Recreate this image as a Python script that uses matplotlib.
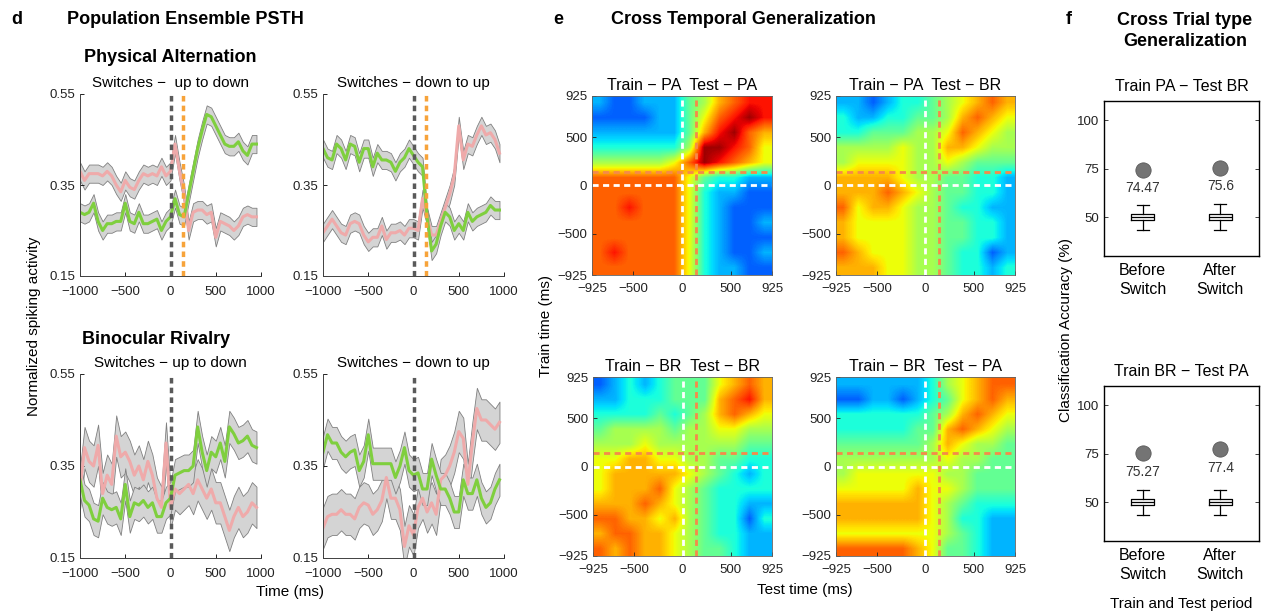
import numpy as np
import matplotlib
matplotlib.use('Agg')
import matplotlib.pyplot as plt
from matplotlib.colors import ListedColormap

plt.rcParams['font.family'] = ['Liberation Sans', 'DejaVu Sans']
plt.rcParams['xtick.direction'] = 'in'
plt.rcParams['ytick.direction'] = 'in'

W, H = 1269, 613

# ---- d: population PSTH (50 ms bins) ----
time = np.arange(-1000, 1000, 50)

pa_ud_green = [0.29, 0.285, 0.29, 0.31, 0.27, 0.25, 0.265, 0.265, 0.27, 0.27,
               0.31, 0.27, 0.265, 0.29, 0.265, 0.265, 0.27, 0.275, 0.25, 0.27,
               0.28, 0.32, 0.285, 0.28, 0.33, 0.38, 0.43, 0.47, 0.505, 0.50,
               0.48, 0.46, 0.44, 0.435, 0.435, 0.445, 0.425, 0.415, 0.44, 0.44]
pa_ud_pink = [0.38, 0.36, 0.375, 0.375, 0.375, 0.37, 0.38, 0.37, 0.35, 0.335,
              0.36, 0.345, 0.34, 0.36, 0.375, 0.37, 0.375, 0.37, 0.39, 0.37,
              0.38, 0.44, 0.38, 0.33, 0.25, 0.29, 0.295, 0.295, 0.285, 0.29,
              0.235, 0.27, 0.265, 0.26, 0.25, 0.26, 0.28, 0.285, 0.28, 0.28]
pa_du_green = [0.43, 0.41, 0.405, 0.44, 0.43, 0.405, 0.44, 0.435, 0.40, 0.43,
               0.43, 0.39, 0.42, 0.405, 0.405, 0.40, 0.38, 0.40, 0.41, 0.43,
               0.415, 0.40, 0.39, 0.28, 0.205, 0.22, 0.26, 0.29, 0.28, 0.25,
               0.265, 0.25, 0.29, 0.27, 0.28, 0.285, 0.29, 0.305, 0.295, 0.295]
pa_du_pink = [0.245, 0.26, 0.275, 0.26, 0.245, 0.24, 0.265, 0.27, 0.265, 0.24,
              0.225, 0.235, 0.235, 0.26, 0.23, 0.245, 0.245, 0.25, 0.24, 0.255,
              0.255, 0.25, 0.32, 0.28, 0.24, 0.24, 0.27, 0.30, 0.33, 0.37,
              0.48, 0.405, 0.44, 0.435, 0.46, 0.48, 0.46, 0.465, 0.45, 0.42]
br_ud_green = [0.32, 0.275, 0.265, 0.235, 0.23, 0.28, 0.26, 0.255, 0.26, 0.235,
               0.31, 0.24, 0.27, 0.265, 0.275, 0.26, 0.27, 0.24, 0.24, 0.27,
               0.28, 0.33, 0.335, 0.34, 0.34, 0.35, 0.435, 0.38, 0.34, 0.38,
               0.37, 0.40, 0.36, 0.435, 0.42, 0.40, 0.405, 0.415, 0.395, 0.39]
br_ud_pink = [0.30, 0.39, 0.36, 0.35, 0.395, 0.29, 0.33, 0.31, 0.415, 0.37,
              0.38, 0.36, 0.33, 0.35, 0.32, 0.36, 0.33, 0.28, 0.26, 0.40,
              0.26, 0.30, 0.29, 0.30, 0.31, 0.29, 0.32, 0.30, 0.28, 0.30,
              0.27, 0.27, 0.24, 0.21, 0.24, 0.26, 0.24, 0.25, 0.27, 0.26]
br_du_green = [0.38, 0.418, 0.40, 0.40, 0.38, 0.37, 0.38, 0.385, 0.34, 0.36,
               0.418, 0.355, 0.355, 0.355, 0.355, 0.355, 0.325, 0.35, 0.39, 0.34,
               0.33, 0.335, 0.30, 0.30, 0.365, 0.33, 0.30, 0.30, 0.28, 0.25,
               0.25, 0.32, 0.29, 0.29, 0.32, 0.28, 0.26, 0.27, 0.30, 0.32]
br_du_pink = [0.215, 0.24, 0.245, 0.245, 0.255, 0.245, 0.245, 0.235, 0.26, 0.27,
              0.265, 0.245, 0.255, 0.275, 0.325, 0.28, 0.28, 0.255, 0.175, 0.22,
              0.20, 0.26, 0.28, 0.25, 0.27, 0.245, 0.32, 0.33, 0.35, 0.38,
              0.425, 0.41, 0.31, 0.40, 0.475, 0.45, 0.45, 0.44, 0.43, 0.445]

# half-width of the grey SEM band per series
sem_pa_green, sem_pa_pink = 0.02, 0.02
sem_br_green, sem_br_pink = 0.035, 0.045

# ---- e: cross temporal generalization (coarse grid, 0 = low .. 9 = high) ----
# rows: train time 925 -> -925 ; columns: test time -925 -> 925
hm_pa_pa = ["100111346788", "000011357898", "111111368976", "222222499875",
            "444445798765", "777777532211", "777777521100", "778777521000",
            "777777521001", "777777521000", "787777521001", "777777521100"]
hm_pa_br = ["110122345676", "211223346765", "223334457654", "444454466544",
            "455554454333", "666654433221", "666765433221", "756654432211",
            "655554433221", "655554433221", "765554432201", "666554432212"]
hm_br_br = ["012123335676", "112223336786", "222232346765", "344443445544",
            "444544444433", "556655443322", "566666543212", "566675432222",
            "666765432211", "776656432202", "677665432211", "767665433211"]
hm_br_pa = ["111111245677", "001101235676", "222222346765", "222223367654",
            "333333465443", "444444454433", "455555544333", "555556554333",
            "666666543222", "666666542211", "555555543211", "777776533211"]
hm_ticks = [-925, -500, 0, 500, 925]

# ---- f: cross trial-type generalization ----
box_groups = ["Before\nSwitch", "After\nSwitch"]
acc_pa_br = [74.47, 75.6]
acc_br_pa = [75.27, 77.4]
# shuffled distribution: low whisker, q1, median, q3, high whisker
null_pa_br = [[43.5, 48.5, 50.0, 51.5, 56.5], [43.5, 48.7, 50.2, 51.7, 57.0]]
null_br_pa = [[43.5, 48.5, 50.0, 51.5, 56.5], [43.5, 48.5, 50.0, 51.5, 56.5]]

GREEN = '#7fcf3e'
PINK = '#efaaaa'
ORANGE = '#f7a33a'


def rect(l, t, r, b):
    return [l / W, 1 - b / H, (r - l) / W, (b - t) / H]


def ftext(x, y, s, **kw):
    fig.text(x / W, 1 - y / H, s, **kw)


fig = plt.figure(figsize=(W / 100, H / 100), dpi=100)


def psth(pos, green, sg, pink, sp, title, orange):
    ax = fig.add_axes(rect(*pos))
    g, p = np.array(green), np.array(pink)
    for v, s in [(p, sp), (g, sg)]:
        ax.fill_between(time, v - s, v + s, facecolor='#d4d4d4',
                        edgecolor='#808080', lw=0.6)
    ax.plot(time, p, color=PINK, lw=2.2)
    ax.plot(time, g, color=GREEN, lw=2.2)
    ax.axvline(0, color='#5a5a5a', lw=2.5, ls=(0, (1.6, 1.2)))
    if orange:
        ax.axvline(140, color=ORANGE, lw=2.5, ls=(0, (1.6, 1.2)))
    ax.set_xlim(-1000, 1000)
    ax.set_ylim(0.15, 0.55)
    ax.set_xticks([-1000, -500, 0, 500, 1000])
    ax.set_yticks([0.15, 0.35, 0.55])
    ax.set_yticklabels(['0.15', '0.35', '0.55'])
    for s in ['top', 'right']:
        ax.spines[s].set_visible(False)
    for s in ['left', 'bottom']:
        ax.spines[s].set_color('#404040')
        ax.spines[s].set_linewidth(0.7)
    ax.tick_params(labelsize=9.5, length=3, width=0.7, colors='#222222')
    ax.tick_params(axis='x', pad=7)
    ax.set_title(title, fontsize=11, pad=5)
    return ax


psth((80, 94, 261, 276), pa_ud_green, sem_pa_green, pa_ud_pink, sem_pa_pink,
     'Switches \u2212  up to down', True)
psth((323, 94, 504, 276), pa_du_green, sem_pa_green, pa_du_pink, sem_pa_pink,
     'Switches \u2212 down to up', True)
psth((80, 374, 261, 558), br_ud_green, sem_br_green, br_ud_pink, sem_br_pink,
     'Switches \u2212 up to down', False)
psth((323, 374, 504, 558), br_du_green, sem_br_green, br_du_pink, sem_br_pink,
     'Switches \u2212 down to up', False)

# MATLAB-like jet, 5 sits near pure yellow
cmap = ListedColormap(plt.cm.jet(np.linspace(0.22, 0.97, 256)))


def heat(pos, rows, title):
    ax = fig.add_axes(rect(*pos))
    z = np.array([[int(c) for c in r] for r in rows])
    ax.imshow(z, cmap=cmap, vmin=0, vmax=9, extent=[-925, 925, -925, 925],
              origin='upper', aspect='auto', interpolation='bilinear')
    dash = (0, (2.2, 1.6))
    ax.axhline(140, color='#f58a4a', lw=2, ls=dash)
    ax.axvline(140, color='#f58a4a', lw=2, ls=dash)
    ax.axhline(0, color='white', lw=2, ls=dash)
    ax.axvline(0, color='white', lw=2, ls=dash)
    ax.set_xlim(-925, 925)
    ax.set_ylim(-925, 925)
    ax.set_xticks(hm_ticks)
    ax.set_yticks(hm_ticks)
    ax.tick_params(labelsize=9.5, length=3, width=0.6, colors='#222222')
    ax.tick_params(axis='x', pad=6)
    for s in ax.spines.values():
        s.set_color('#606060')
        s.set_linewidth(0.6)
    ax.set_title(title, fontsize=11.5, pad=4)


heat((592, 96, 772, 275), hm_pa_pa, 'Train \u2212 PA  Test \u2212 PA')
heat((836, 96, 1015, 275), hm_pa_br, 'Train \u2212 PA  Test \u2212 BR')
heat((593, 377, 772, 556), hm_br_br, 'Train \u2212 BR  Test \u2212 BR')
heat((836, 377, 1015, 556), hm_br_pa, 'Train \u2212 BR  Test \u2212 PA')


def boxes(pos, null, acc, title):
    ax = fig.add_axes(rect(*pos))
    stats = []
    for n in null:
        stats.append(dict(whislo=n[0], q1=n[1], med=n[2], q3=n[3], whishi=n[4],
                          fliers=[]))
    ax.bxp(stats, positions=[1, 2], widths=0.3, showfliers=False,
           boxprops=dict(color='black', lw=0.9),
           medianprops=dict(color='black', lw=0.9),
           whiskerprops=dict(color='black', lw=0.9, ls='-'),
           capprops=dict(color='black', lw=0.9))
    ax.plot([1, 2], acc, 'o', ms=11, color='#747474', mec='#5a5a5a', mew=0.6)
    for x, a in zip([1, 2], acc):
        ax.text(x, a - 9.5, f'{a:g}', ha='center', va='center', fontsize=10,
                color='#333333')
    ax.set_xlim(0.5, 2.5)
    ax.set_ylim(30, 110)
    ax.set_yticks([50, 75, 100])
    ax.set_xticks([1, 2])
    ax.set_xticklabels(box_groups, fontsize=11.5, linespacing=1.3)
    ax.tick_params(axis='x', length=0, pad=5)
    ax.tick_params(axis='y', labelsize=9.5, length=3, width=0.6, right=True,
                   colors='#222222')
    for s in ax.spines.values():
        s.set_linewidth(1.0)
    ax.set_title(title, fontsize=11.5, pad=7)


boxes((1104, 101, 1259, 256), null_pa_br, acc_pa_br, 'Train PA \u2212 Test BR')
boxes((1104, 386, 1259, 541), null_br_pa, acc_br_pa, 'Train BR \u2212 Test PA')

# panel headings and shared labels
bold = dict(fontsize=13, fontweight='bold', va='center')
ftext(11, 19, 'd', ha='left', **bold)
ftext(67, 19, 'Population Ensemble PSTH', ha='left', **bold)
ftext(553, 19, 'e', ha='left', **bold)
ftext(611, 19, 'Cross Temporal Generalization', ha='left', **bold)
ftext(1066, 19, 'f', ha='left', **bold)
ftext(1185, 31, 'Cross Trial type\nGeneralization', ha='center',
      linespacing=1.25, **bold)
ftext(170, 57, 'Physical Alternation', ha='center', **bold)
ftext(82, 340, 'Binocular Rivalry', ha='left', **bold)

ftext(34, 326, 'Normalized spiking activity', rotation=90, ha='center',
      va='center', fontsize=11)
ftext(290, 592, 'Time (ms)', ha='center', va='center', fontsize=11)
ftext(546, 326, 'Train time (ms)', rotation=90, ha='center', va='center',
      fontsize=11)
ftext(805, 590, 'Test time (ms)', ha='center', va='center', fontsize=11)
ftext(1066, 330, 'Classification Accuracy (%)', rotation=90, ha='center',
      va='center', fontsize=11)
ftext(1181, 604, 'Train and Test period', ha='center', va='center',
      fontsize=11)

fig.savefig('out.png', dpi=100)
